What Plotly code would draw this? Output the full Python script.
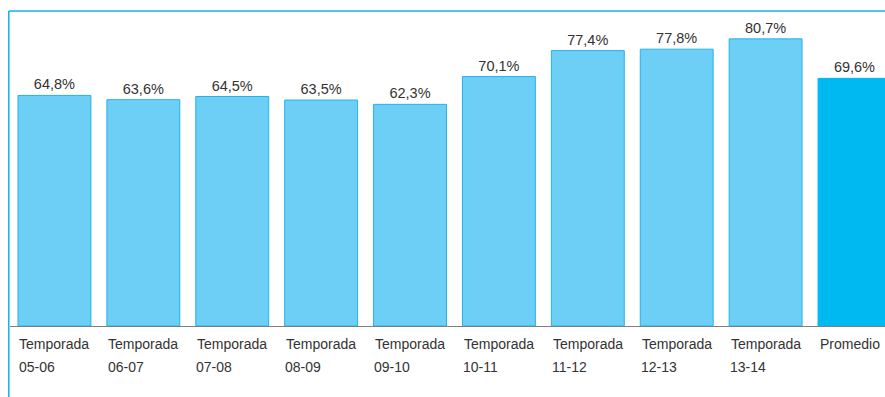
import plotly.graph_objects as go

# Season labels and their percentage values
seasons = ["05-06", "06-07", "07-08", "08-09", "09-10", "10-11", "11-12", "12-13", "13-14"]
season_values = [64.8, 63.6, 64.5, 63.5, 62.3, 70.1, 77.4, 77.8, 80.7]
average_label = "Promedio"
average_value = 69.6

categories = [f"Temporada {s}" for s in seasons] + [average_label]
values = season_values + [average_value]

LIGHT = "#6DCFF6"
LIGHT_EDGE = "#22B3EA"
STRONG = "#00B9F1"
FRAME = "#11B2EE"
TEXT = "#333333"
FONT = "Liberation Sans, Arial, sans-serif"

fill_colors = [LIGHT] * len(season_values) + [STRONG]
edge_colors = [LIGHT_EDGE] * len(season_values) + [STRONG]

fig = go.Figure(
    go.Bar(
        x=categories,
        y=values,
        marker=dict(color=fill_colors, line=dict(color=edge_colors, width=1)),
        texttemplate="%{y:.1f}%",
        textposition="outside",
        textfont=dict(size=14.5, color=TEXT, family=FONT),
        cliponaxis=False,
        hoverinfo="skip",
    )
)

# Category labels: "Temporada" over the season code, left-aligned block
annotations = []
for i, s in enumerate(seasons):
    annotations.append(dict(
        x=i, y=0, xref="x", yref="paper", text="Temporada",
        showarrow=False, xanchor="center", yanchor="middle", yshift=-18,
        font=dict(size=14, color=TEXT, family=FONT),
    ))
    annotations.append(dict(
        x=i - 0.425, y=0, xref="x", yref="paper", text=s,
        showarrow=False, xanchor="left", yanchor="middle", yshift=-41,
        font=dict(size=14, color=TEXT, family=FONT),
    ))
annotations.append(dict(
    x=len(seasons) - 0.05, y=0, xref="x", yref="paper", text=average_label,
    showarrow=False, xanchor="center", yanchor="middle", yshift=-18,
    font=dict(size=14, color=TEXT, family=FONT),
))

# Thin blue frame along the top and left edges
shapes = [
    dict(type="line", xref="paper", yref="paper", x0=-0.0014, x1=1.01, y0=1.0294, y1=1.0294,
         line=dict(color=FRAME, width=1.5)),
    dict(type="line", xref="paper", yref="paper", x0=-0.0014, x1=-0.0014, y0=1.0294, y1=-0.24,
         line=dict(color=FRAME, width=1.5)),
]

fig.update_layout(
    width=885,
    height=397,
    margin=dict(l=10, r=0, t=20, b=71),
    paper_bgcolor="white",
    plot_bgcolor="white",
    separators=",.",
    bargap=0.18,
    showlegend=False,
    annotations=annotations,
    shapes=shapes,
    font=dict(family=FONT, color=TEXT),
)
fig.update_xaxes(
    type="category",
    range=[-0.5, 9.343],
    showline=True, linecolor="#7F7F7F", linewidth=1,
    showticklabels=False, ticks="", showgrid=False, zeroline=False,
)
fig.update_yaxes(
    range=[0, 86], visible=False, showgrid=False, zeroline=False,
)

fig.write_html("out.html")
